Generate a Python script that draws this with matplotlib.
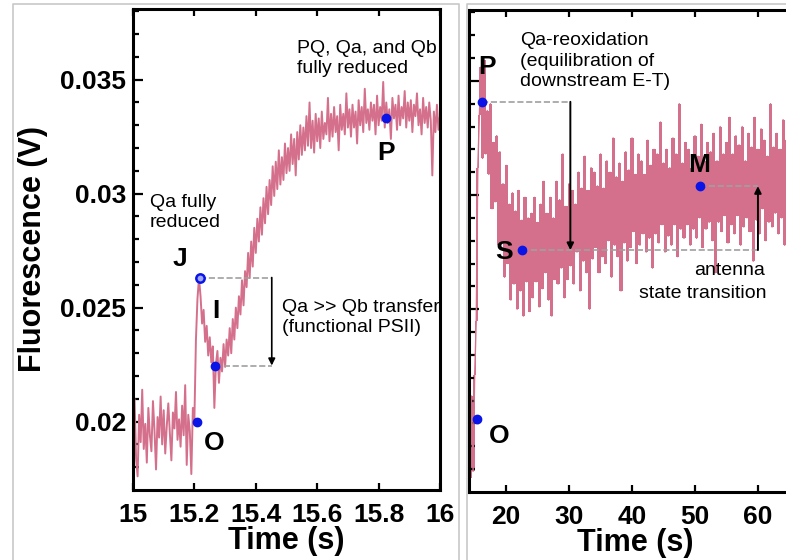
import numpy as np
import matplotlib.pyplot as plt
from matplotlib.lines import Line2D

plt.rcParams['font.family'] = ['Liberation Sans', 'DejaVu Sans']

# ------------------------------------
# data (fluorescence in mV)

# left panel: fast OJIP rise, one sample every 5 ms from 15.000 s to 16.000 s
left_t_start, left_t_step = 15.0, 0.005
left_fluor_mV = [
    19.2, 21.0, 18.4, 17.6, 20.3, 19.1, 21.4, 18.8, 19.9, 18.2,
    20.6, 19.4, 18.7, 20.9, 19.6, 17.9, 20.2, 19.3, 21.1, 19.0,
    20.5, 18.6, 19.8, 20.8, 19.5, 18.3, 20.4, 19.7, 21.3, 19.2,
    20.1, 18.9, 20.7, 19.4, 21.6, 18.1, 20.3, 19.6, 17.7, 20.6,
    20.1, 23.6, 25.4, 26.3, 25.5, 24.3, 24.9, 23.5, 24.2, 22.9,
    23.7, 22.6, 23.3, 20.6, 22.5, 23.1, 21.7, 22.8, 22.2, 23.4,
    22.4, 23.6, 22.9, 24.1, 23.0, 24.5, 23.6, 25.0, 24.1, 25.5,
    24.7, 26.2, 25.1, 26.6, 25.9, 27.4, 26.3, 27.9, 26.8, 28.5,
    27.4, 28.9, 27.9, 29.4, 28.2, 29.8, 28.7, 30.3, 29.1, 30.6,
    29.5, 31.2, 29.9, 31.4, 30.2, 31.9, 30.4, 31.6, 30.6, 32.2,
    30.9, 32.0, 31.0, 32.6, 31.3, 32.4, 30.8, 32.7, 31.5, 33.0,
    31.7, 32.9, 31.9, 33.4, 32.1, 34.0, 32.0, 33.2, 31.8, 33.5,
    32.3, 33.3, 32.0, 33.6, 32.4, 33.1, 32.6, 34.2, 32.3, 33.5,
    32.5, 33.8, 32.7, 33.4, 31.9, 33.9, 32.8, 33.5, 32.6, 34.4,
    32.9, 33.7, 32.5, 33.9, 32.9, 33.6, 32.2, 34.1, 33.0, 33.8,
    32.7, 34.6, 33.1, 33.7, 32.8, 34.0, 33.2, 33.9, 32.6, 34.3,
    33.0, 33.8, 33.2, 34.9, 32.9, 34.0, 33.1, 33.7, 32.4, 34.2,
    33.3, 33.9, 32.8, 34.3, 33.0, 33.8, 33.3, 34.5, 32.9, 34.0,
    33.2, 34.1, 32.7, 33.9, 33.4, 34.4, 33.0, 33.7, 32.6, 34.2,
    33.1, 33.8, 32.9, 34.0, 33.2, 30.8, 33.6, 32.7, 33.9, 32.8,
    33.4,
]

# right panel: slow PSMT phase, one sample every 0.25 s from 14.0 s
right_t_start, right_t_step = 14.0, 0.25
right_fluor_mV = [
    21.8, 17.6, 21.2, 17.9, 22.1, 24.5, 31.2, 33.5, 35.6, 31.6,
    35.9, 31.8, 33.7, 30.9, 34.0, 29.4, 32.3, 29.7, 32.6, 27.8,
    31.9, 27.9, 30.5, 26.4, 31.3, 27.0, 29.6, 25.4, 30.1, 26.1,
    29.3, 25.0, 30.2, 25.8, 28.9, 24.7, 29.9, 26.2, 29.0, 24.9,
    29.2, 25.5, 29.9, 26.2, 28.8, 25.1, 29.6, 25.9, 30.6, 26.6,
    29.2, 25.4, 29.9, 24.7, 29.0, 26.3, 30.6, 26.1, 29.8, 26.8,
    31.8, 25.5, 29.5, 26.3, 30.5, 26.9, 30.2, 26.1, 29.6, 27.5,
    31.0, 25.8, 30.3, 27.1, 31.7, 26.6, 30.2, 25.0, 31.2, 27.2,
    31.0, 27.7, 30.4, 26.6, 31.8, 27.3, 30.3, 27.0, 31.5, 28.0,
    31.0, 26.4, 32.5, 27.8, 30.8, 27.3, 31.4, 25.8, 30.6, 27.9,
    31.9, 27.1, 31.1, 27.7, 32.5, 28.4, 30.9, 27.0, 31.8, 27.8,
    31.5, 28.3, 30.9, 27.5, 32.4, 28.1, 31.3, 26.8, 32.0, 28.3,
    31.8, 27.9, 33.2, 28.7, 31.4, 27.5, 32.0, 28.2, 31.2, 27.8,
    32.5, 28.7, 31.8, 27.3, 34.0, 28.5, 31.4, 28.1, 32.3, 28.7,
    32.0, 27.8, 31.2, 28.5, 32.6, 28.1, 31.7, 29.0, 33.1, 27.7,
    31.5, 28.5, 32.3, 28.8, 31.9, 28.0, 32.7, 26.6, 31.5, 28.8,
    33.0, 28.4, 31.8, 29.1, 32.3, 27.9, 33.4, 28.7, 31.8, 28.3,
    32.6, 29.1, 32.2, 27.8, 33.0, 28.6, 31.5, 29.0, 32.7, 28.4,
    32.1, 27.1, 33.4, 28.9, 32.0, 28.3, 32.9, 29.4, 32.4, 28.0,
    31.7, 28.8, 34.0, 28.6, 32.1, 29.2, 32.7, 28.3, 32.0, 29.0,
    33.3, 27.8, 32.4, 29.2, 32.9, 28.6, 31.9, 28.8, 33.1, 29.1,
    32.5,
]

# marked points (time s, fluorescence V)
left_points = {'O': (15.208, 0.0200), 'J': (15.218, 0.02632),
               'I': (15.267, 0.02246), 'P': (15.823, 0.03333)}
right_points = {'O': (15.3, 0.02018), 'P': (16.17, 0.03408),
                'S': (22.55, 0.02759), 'M': (50.75, 0.03039)}

left_xticks = [15, 15.2, 15.4, 15.6, 15.8, 16]
left_xticklabels = ['15', '15.2', '15.4', '15.6', '15.8', '16']
right_xticks = [20, 30, 40, 50, 60]
yticks = [0.02, 0.025, 0.03, 0.035]
yticklabels = ['0.02', '0.025', '0.03', '0.035']

# ------------------------------------

trace_color = '#d4708c'
dot_color = '#0a14e6'
dash_color = '#a0a0a0'

left_t = left_t_start + left_t_step * np.arange(len(left_fluor_mV))
right_t = right_t_start + right_t_step * np.arange(len(right_fluor_mV))
left_v = np.array(left_fluor_mV) / 1000.0
right_v = np.array(right_fluor_mV) / 1000.0

fig = plt.figure(figsize=(7.86, 5.6), dpi=100)

# light grey screenshot frames
for xs, ys in [([12.5, 12.5, 459, 459], [560, 4, 4, 560]),
               ([467, 467, 786], [560, 4, 4])]:
    fig.add_artist(Line2D(np.array(xs) / 786, 1 - np.array(ys) / 560,
                          color='#c8c8c8', lw=1.2, transform=fig.transFigure))

ax1 = fig.add_axes([133 / 786, 70 / 560, 307 / 786, 481 / 560])
ax2 = fig.add_axes([469 / 786, 68 / 560, 333 / 786, 482 / 560])

ylim = (0.0170, 0.0381)

for ax in (ax1, ax2):
    ax.set_ylim(*ylim)
    for sp in ax.spines.values():
        sp.set_linewidth(2.2)
    ax.set_yticks(np.arange(0.018, 0.0381, 0.001), minor=True)
    ax.tick_params(axis='y', which='major', direction='in', length=7, width=1.6,
                   labelsize=19, pad=5)
    ax.tick_params(axis='y', which='minor', direction='in', length=4, width=1.6)
    ax.tick_params(axis='x', which='major', direction='in', length=5, width=1.6,
                   labelsize=19, pad=9, top=True)
    ax.tick_params(axis='x', which='minor', bottom=False, top=False)

# left panel
ax1.plot(left_t, left_v, color=trace_color, lw=1.4)
ax1.set_xlim(15, 16)
ax1.set_xticks(left_xticks, left_xticklabels, fontsize=19, fontweight='bold')
ax1.set_yticks(yticks, yticklabels, fontsize=19, fontweight='bold')
ax1.set_xlabel('Time (s)', fontsize=22, fontweight='bold', labelpad=0)
ax1.set_ylabel('Fluorescence (V)', fontsize=22, fontweight='bold', labelpad=9)

jt, jv = left_points['J']
it, iv = left_points['I']
ax1.plot([jt, 15.452], [jv, jv], ls='--', color=dash_color, lw=1.2)
ax1.plot([it, 15.452], [iv, iv], ls='--', color=dash_color, lw=1.2)
ax1.annotate('', xy=(15.452, iv), xytext=(15.452, jv),
             arrowprops=dict(arrowstyle='-|>', color='k', lw=1.2,
                             mutation_scale=10, shrinkA=0, shrinkB=0))
for k in ['O', 'I', 'P']:
    ax1.plot(*left_points[k], 'o', color=dot_color, ms=6, zorder=5)
ax1.plot(jt, jv, 'o', mfc='#9fa8ff', mec=dot_color, mew=1.8, ms=6, zorder=5)

big = dict(fontsize=19, fontweight='bold', ha='center', va='center')
ax1.text(15.153, 0.02715, 'J', **big)
ax1.text(15.27, 0.02487, 'I', **big)
ax1.text(15.263, 0.01904, 'O', **big)
ax1.text(15.823, 0.0318, 'P', **big)

small = dict(fontsize=14, ha='left', va='top', linespacing=1.25)
ax1.text(15.533, 0.03675, 'PQ, Qa, and Qb\nfully reduced', **small)
ax1.text(15.055, 0.03000, 'Qa fully\nreduced', **small)
ax1.text(15.485, 0.02540, 'Qa >> Qb transfer\n(functional PSII)', **small)

# right panel: dense noisy band, filled between neighbouring samples
band_hi = np.maximum(right_v[:-1], right_v[1:])
band_lo = np.minimum(right_v[:-1], right_v[1:])
ax2.fill_between(right_t[:-1], band_lo, band_hi, color=trace_color, lw=0,
                 step='post')
ax2.plot(right_t, right_v, color=trace_color, lw=1.0)
ax2.set_xlim(14.1, 67.0)
ax2.set_xticks(right_xticks, [str(v) for v in right_xticks],
               fontsize=19, fontweight='bold')
ax2.set_yticks(yticks, [])
ax2.set_xlabel('Time (s)', fontsize=22, fontweight='bold', labelpad=0)

pt, pv = right_points['P']
st, sv = right_points['S']
mt, mv = right_points['M']
ax2.plot([pt, 30.2], [pv, pv], ls='--', color=dash_color, lw=1.2)
ax2.plot([st, 60.0], [sv, sv], ls='--', color=dash_color, lw=1.2)
ax2.plot([mt, 60.0], [mv, mv], ls='--', color=dash_color, lw=1.2)
ax2.annotate('', xy=(30.2, sv), xytext=(30.2, pv),
             arrowprops=dict(arrowstyle='-|>', color='k', lw=1.4,
                             mutation_scale=10, shrinkA=0, shrinkB=0))
ax2.annotate('', xy=(60.0, mv), xytext=(60.0, sv),
             arrowprops=dict(arrowstyle='-|>', color='k', lw=1.4,
                             mutation_scale=10, shrinkA=0, shrinkB=0))
for k in ['O', 'P', 'S', 'M']:
    ax2.plot(*right_points[k], 'o', color=dot_color, ms=6, zorder=5, clip_on=False)

ax2.text(16.9, 0.03561, 'P', **big)
ax2.text(19.6, 0.0275, 'S', **big)
ax2.text(50.65, 0.03132, 'M', **big)
ax2.text(18.9, 0.01947, 'O', **big)

ax2.text(22.2, 0.03712, 'Qa-reoxidation\n(equilibration of\ndownstream E-T)', **small)
ax2.text(55.5, 0.02671, 'antenna', fontsize=14, ha='center', va='center')
ax2.text(51.3, 0.0257, 'state transition', fontsize=14, ha='center', va='center')

plt.savefig('out.png', dpi=100)
